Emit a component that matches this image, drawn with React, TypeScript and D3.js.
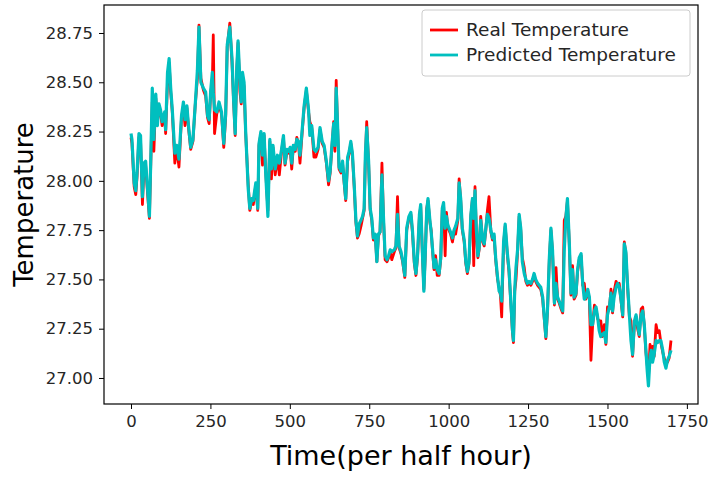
import * as d3 from "d3";
import { useRef, useEffect } from "react";

// time index (per half hour)
const times = [
  0, 3, 10, 15, 19, 25, 30, 36, 41, 46, 52, 58, 62, 67, 72, 78, 83, 88, 93, 98,
  106, 109, 115, 120, 125, 130, 138, 144, 151, 159, 165, 170, 176, 181, 188, 195, 202, 209, 214, 220,
  228, 235, 241, 246, 251, 256, 259, 263, 270, 277, 285, 292, 298, 303, 311, 318, 323, 328, 333, 337,
  343, 347, 351, 356, 361, 369, 374, 380, 385, 393, 399, 403, 409, 414, 419, 424, 431, 437, 442, 447,
  454, 461, 467, 474, 480, 485, 491, 496, 501, 506, 511, 517, 522, 527, 532, 540, 545, 552, 559, 563,
  569, 576, 582, 589, 595, 602, 608, 615, 622, 627, 632, 638, 642, 646, 650, 655, 661, 666, 671, 676,
  682, 687, 692, 697, 703, 708, 713, 718, 724, 729, 734, 738, 742, 748, 753, 758, 763, 769, 774, 779,
  784, 790, 795, 800, 806, 811, 816, 821, 829, 834, 839, 844, 850, 855, 862, 868, 875, 881, 886, 892,
  897, 902, 908, 912, 918, 922, 926, 931, 935, 941, 945, 949, 954, 959, 964, 970, 975, 980, 984, 989,
  993, 997, 1001, 1006, 1012, 1017, 1022, 1029, 1033, 1038, 1043, 1049, 1054, 1059, 1064, 1070, 1075, 1079, 1083, 1087,
  1092, 1096, 1101, 1107, 1112, 1117, 1122, 1127, 1133, 1138, 1143, 1148, 1154, 1159, 1163, 1167, 1173, 1178, 1185, 1190,
  1196, 1201, 1204, 1208, 1212, 1217, 1222, 1227, 1232, 1238, 1243, 1248, 1253, 1259, 1264, 1269, 1274, 1280, 1285, 1290,
  1296, 1301, 1306, 1311, 1317, 1322, 1327, 1333, 1338, 1343, 1348, 1354, 1359, 1364, 1369, 1374, 1380, 1385, 1390, 1395,
  1401, 1406, 1411, 1417, 1422, 1427, 1432, 1438, 1443, 1448, 1453, 1459, 1464, 1469, 1474, 1479, 1484, 1490, 1495, 1500,
  1506, 1511, 1516, 1521, 1527, 1532, 1537, 1542, 1548, 1553, 1558, 1563, 1569, 1574, 1579, 1585, 1590, 1595, 1600, 1606,
  1611, 1616, 1621, 1625, 1629, 1634, 1638, 1642, 1647, 1653, 1658, 1663, 1668, 1674, 1679, 1684, 1689, 1694, 1700,
];

const realTemp = [
  28.22, 28.19, 27.97, 27.93, 28.02, 28.22, 28.21, 27.88, 28.07, 28.08, 27.94, 27.81, 28.07, 28.40, 28.15, 28.42, 28.30, 28.37, 28.34, 28.28,
  28.33, 28.24, 28.50, 28.60, 28.45, 28.35, 28.09, 28.17, 28.07, 28.32, 28.38, 28.28, 28.37, 28.27, 28.16, 28.20, 28.38, 28.52, 28.79, 28.52,
  28.46, 28.43, 28.32, 28.29, 28.45, 28.50, 28.74, 28.24, 28.34, 28.38, 28.34, 28.17, 28.32, 28.68, 28.80, 28.60, 28.40, 28.23, 28.56, 28.70,
  28.45, 28.39, 28.52, 28.48, 28.24, 27.98, 27.85, 27.90, 27.88, 27.98, 27.85, 28.18, 28.24, 28.08, 28.23, 28.05, 27.85, 28.20, 28.01, 28.17,
  28.03, 28.12, 28.03, 28.15, 28.22, 28.08, 28.15, 28.14, 28.16, 28.06, 28.17, 28.15, 28.22, 28.19, 28.09, 28.27, 28.37, 28.46, 28.35, 28.30,
  28.27, 28.12, 28.12, 28.16, 28.26, 28.19, 28.17, 28.09, 27.98, 28.04, 28.16, 28.30, 28.15, 28.51, 28.29, 28.06, 28.04, 28.09, 27.99, 27.90,
  28.10, 28.14, 28.19, 28.13, 27.96, 27.79, 27.71, 27.73, 27.77, 27.81, 27.85, 28.12, 28.30, 28.09, 27.85, 27.80, 27.70, 27.72, 27.59, 27.72,
  27.74, 28.09, 27.80, 27.60, 27.59, 27.61, 27.64, 27.60, 27.64, 27.66, 27.92, 27.66, 27.63, 27.59, 27.51, 27.75, 27.81, 27.83, 27.74, 27.58,
  27.52, 27.61, 27.82, 27.87, 27.60, 27.45, 27.60, 27.86, 27.90, 27.79, 27.75, 27.65, 27.55, 27.62, 27.52, 27.52, 27.60, 27.85, 27.88, 27.62,
  27.84, 27.77, 27.75, 27.73, 27.69, 27.74, 27.73, 27.80, 28.01, 27.90, 27.75, 27.69, 27.58, 27.53, 27.58, 27.82, 27.91, 27.57, 27.97, 27.75,
  27.61, 27.65, 27.82, 27.69, 27.67, 27.75, 27.85, 27.92, 27.74, 27.70, 27.72, 27.60, 27.50, 27.46, 27.42, 27.31, 27.68, 27.77, 27.62, 27.54,
  27.37, 27.23, 27.18, 27.44, 27.50, 27.64, 27.82, 27.75, 27.61, 27.56, 27.49, 27.47, 27.48, 27.47, 27.49, 27.52, 27.49, 27.47, 27.46, 27.45,
  27.40, 27.30, 27.20, 27.33, 27.60, 27.75, 27.64, 27.37, 27.56, 27.40, 27.38, 27.35, 27.33, 27.80, 27.82, 27.90, 27.67, 27.42, 27.57, 27.40,
  27.42, 27.54, 27.60, 27.62, 27.47, 27.48, 27.40, 27.44, 27.40, 27.09, 27.26, 27.37, 27.35, 27.30, 27.29, 27.29, 27.21, 27.27, 27.17, 27.36,
  27.35, 27.45, 27.33, 27.44, 27.49, 27.47, 27.48, 27.40, 27.31, 27.69, 27.63, 27.47, 27.31, 27.29, 27.11, 27.28, 27.31, 27.25, 27.21, 27.35,
  27.36, 27.26, 27.13, 27.07, 27.00, 27.17, 27.13, 27.16, 27.11, 27.27, 27.23, 27.24, 27.18, 27.13, 27.10, 27.07, 27.08, 27.10, 27.19,
];

const predictedTemp = [
  28.24, 28.21, 27.99, 27.95, 28.04, 28.24, 28.23, 27.92, 28.09, 28.10, 27.96, 27.82, 28.09, 28.47, 28.21, 28.44, 28.28, 28.39, 28.36, 28.30,
  28.35, 28.26, 28.55, 28.62, 28.47, 28.36, 28.14, 28.18, 28.11, 28.33, 28.40, 28.31, 28.38, 28.28, 28.17, 28.21, 28.38, 28.56, 28.78, 28.50,
  28.47, 28.45, 28.33, 28.31, 28.46, 28.55, 28.45, 28.36, 28.35, 28.40, 28.35, 28.19, 28.34, 28.69, 28.78, 28.62, 28.41, 28.24, 28.57, 28.71,
  28.50, 28.40, 28.55, 28.50, 28.25, 27.96, 27.86, 27.91, 27.90, 27.99, 27.86, 28.19, 28.25, 28.13, 28.24, 28.04, 27.82, 28.21, 28.06, 28.18,
  28.06, 28.13, 28.09, 28.16, 28.23, 28.09, 28.16, 28.15, 28.17, 28.09, 28.18, 28.16, 28.21, 28.20, 28.13, 28.28, 28.38, 28.47, 28.36, 28.23,
  28.28, 28.16, 28.15, 28.17, 28.27, 28.20, 28.18, 28.10, 28.00, 28.05, 28.17, 28.29, 28.18, 28.47, 28.30, 28.07, 28.05, 28.10, 28.00, 27.91,
  28.12, 28.15, 28.20, 28.14, 27.97, 27.80, 27.72, 27.78, 27.80, 27.82, 27.86, 28.14, 28.27, 28.10, 27.86, 27.81, 27.71, 27.73, 27.59, 27.73,
  27.74, 28.03, 27.81, 27.62, 27.60, 27.62, 27.65, 27.64, 27.65, 27.67, 27.83, 27.67, 27.64, 27.60, 27.52, 27.76, 27.82, 27.84, 27.75, 27.59,
  27.53, 27.62, 27.83, 27.88, 27.61, 27.44, 27.61, 27.85, 27.91, 27.80, 27.74, 27.66, 27.56, 27.60, 27.55, 27.53, 27.61, 27.86, 27.89, 27.76,
  27.82, 27.78, 27.76, 27.74, 27.71, 27.75, 27.77, 27.81, 27.99, 27.91, 27.76, 27.70, 27.59, 27.54, 27.59, 27.83, 27.91, 27.81, 27.95, 27.76,
  27.62, 27.66, 27.80, 27.70, 27.68, 27.76, 27.83, 27.81, 27.75, 27.71, 27.73, 27.61, 27.51, 27.44, 27.43, 27.39, 27.69, 27.78, 27.63, 27.55,
  27.38, 27.24, 27.19, 27.45, 27.56, 27.65, 27.83, 27.76, 27.59, 27.53, 27.50, 27.48, 27.49, 27.48, 27.50, 27.53, 27.50, 27.48, 27.47, 27.46,
  27.41, 27.31, 27.21, 27.34, 27.61, 27.76, 27.65, 27.38, 27.48, 27.41, 27.39, 27.36, 27.34, 27.65, 27.81, 27.91, 27.68, 27.43, 27.55, 27.41,
  27.43, 27.55, 27.61, 27.63, 27.48, 27.40, 27.41, 27.45, 27.41, 27.27, 27.27, 27.34, 27.36, 27.31, 27.24, 27.21, 27.22, 27.23, 27.18, 27.32,
  27.36, 27.43, 27.34, 27.41, 27.46, 27.48, 27.46, 27.41, 27.32, 27.68, 27.64, 27.48, 27.32, 27.19, 27.12, 27.29, 27.32, 27.27, 27.22, 27.32,
  27.34, 27.27, 27.14, 27.04, 26.96, 27.11, 27.14, 27.08, 27.12, 27.19, 27.18, 27.19, 27.19, 27.14, 27.08, 27.05, 27.09, 27.11, 27.14,
];

const xTicks = [0, 250, 500, 750, 1000, 1250, 1500, 1750];
const yTicks = [27.0, 27.25, 27.5, 27.75, 28.0, 28.25, 28.5, 28.75];
const legendLabels = ["Real Temperature", "Predicted Temperature"];
const legendColors = ["#ff0000", "#00bfbf"];

const W = 716;
const H = 478;
const margin = { top: 5, right: 18, bottom: 74, left: 104 };
const font = "DejaVu Sans, sans-serif";

export default function App() {
  const svgRef = useRef<SVGSVGElement>(null);

  useEffect(() => {
    const svg = d3.select(svgRef.current);
    svg.selectAll("*").remove();

    const innerW = W - margin.left - margin.right;
    const innerH = H - margin.top - margin.bottom;

    // matplotlib-style 5% margins
    const xMin = d3.min(times)!, xMax = d3.max(times)!;
    const allVals = realTemp.concat(predictedTemp);
    const yMin = d3.min(allVals)!, yMax = d3.max(allVals)!;
    const xPad = (xMax - xMin) * 0.05;
    const yPad = (yMax - yMin) * 0.05;

    const x = d3.scaleLinear().domain([xMin - xPad, xMax + xPad]).range([0, innerW]);
    const y = d3.scaleLinear().domain([yMin - yPad, yMax + yPad]).range([innerH, 0]);

    const g = svg.append("g").attr("transform", `translate(${margin.left},${margin.top})`);

    const line = (vals: number[]) =>
      d3.line<number>()
        .x((_, i) => x(times[i]))
        .y((d) => y(d))(vals);

    g.append("path")
      .attr("d", line(realTemp))
      .attr("fill", "none")
      .attr("stroke", legendColors[0])
      .attr("stroke-width", 2.8)
      .attr("stroke-linejoin", "round");

    g.append("path")
      .attr("d", line(predictedTemp))
      .attr("fill", "none")
      .attr("stroke", legendColors[1])
      .attr("stroke-width", 3.2)
      .attr("stroke-linejoin", "round");

    // axes
    const xAxis = g.append("g")
      .attr("transform", `translate(0,${innerH})`)
      .call(d3.axisBottom(x).tickValues(xTicks).tickFormat(d3.format("d")).tickSize(5).tickPadding(6));
    const yAxis = g.append("g")
      .call(d3.axisLeft(y).tickValues(yTicks).tickFormat(d3.format(".2f")).tickSize(5).tickPadding(6));

    [xAxis, yAxis].forEach((a) => {
      a.select(".domain").remove();
      a.selectAll("line").attr("stroke", "#000").attr("stroke-width", 1);
      a.selectAll("text")
        .attr("fill", "#262626")
        .style("font-family", font)
        .style("font-size", "16.5px");
    });

    // frame
    g.append("rect")
      .attr("width", innerW)
      .attr("height", innerH)
      .attr("fill", "none")
      .attr("stroke", "#000")
      .attr("stroke-width", 1.2);

    // axis labels
    svg.append("text")
      .attr("x", margin.left + innerW / 2)
      .attr("y", 465)
      .attr("text-anchor", "middle")
      .style("font-family", font)
      .style("font-size", "27px")
      .text("Time(per half hour)");

    svg.append("text")
      .attr("transform", `translate(33,${margin.top + innerH / 2}) rotate(-90)`)
      .attr("text-anchor", "middle")
      .style("font-family", font)
      .style("font-size", "26px")
      .text("Temperature");

    // legend
    const lg = svg.append("g").attr("transform", `translate(${margin.left + innerW - 276},${margin.top + 5})`);
    lg.append("rect")
      .attr("width", 268)
      .attr("height", 66)
      .attr("rx", 3)
      .attr("fill", "#fff")
      .attr("fill-opacity", 0.8)
      .attr("stroke", "#cccccc");
    legendLabels.forEach((lab, i) => {
      const cy = 20 + i * 25;
      lg.append("line")
        .attr("x1", 8).attr("x2", 36)
        .attr("y1", cy).attr("y2", cy)
        .attr("stroke", legendColors[i])
        .attr("stroke-width", 2.8);
      lg.append("text")
        .attr("x", 44)
        .attr("y", cy)
        .attr("dy", "0.35em")
        .attr("fill", "#262626")
        .style("font-family", font)
        .style("font-size", "18.5px")
        .text(lab);
    });
  }, []);

  return (
    <>
      <style>{"body{margin:0}"}</style>
      <svg ref={svgRef} width={W} height={H} style={{ display: "block", background: "#fff" }} />
    </>
  );
}
